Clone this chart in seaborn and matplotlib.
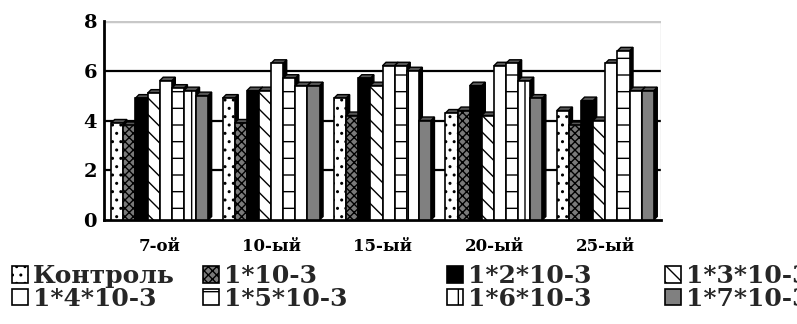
import numpy as np
import pandas as pd
import seaborn as sns
import matplotlib.pyplot as plt
from matplotlib.patches import Polygon, Patch

# Observation days (x categories)
days = ["7-ой", "10-ый", "15-ый", "20-ый", "25-ый"]

# Treatment groups (hue)
groups = ["Контроль", "1*10-3", "1*2*10-3", "1*3*10-3",
          "1*4*10-3", "1*5*10-3", "1*6*10-3", "1*7*10-3"]

# Measured values per group, one per day
kontrol = [3.9, 4.9, 4.9, 4.3, 4.4]
c1 = [3.8, 3.9, 4.2, 4.4, 3.8]
c2 = [4.9, 5.2, 5.7, 5.4, 4.8]
c3 = [5.1, 5.2, 5.4, 4.2, 4.0]
c4 = [5.6, 6.3, 6.2, 6.2, 6.3]
c5 = [5.3, 5.7, 6.2, 6.3, 6.8]
c6 = [5.2, 5.4, 6.0, 5.6, 5.2]
c7 = [5.0, 5.4, 4.0, 4.9, 5.2]
series = [kontrol, c1, c2, c3, c4, c5, c6, c7]

y_ticks = [0, 2, 4, 6, 8]

rows = []
for g, vals in zip(groups, series):
    for d, v in zip(days, vals):
        rows.append({"day": d, "group": g, "value": v})
df = pd.DataFrame(rows)

# Fill and hatch styling for each group
faces = ["white", "#7a7a7a", "black", "white", "white", "white", "white", "#808080"]
hatches = ["..", "xxxx", "", "\\\\", "", "-", "|", ""]

sns.set_theme(style="white")
plt.rcParams["font.family"] = ["DejaVu Serif"]
plt.rcParams["font.weight"] = "bold"
plt.rcParams["hatch.linewidth"] = 1.0
plt.rcParams["hatch.color"] = "black"

W, H = 797, 324
fig = plt.figure(figsize=(W / 100, H / 100), dpi=100)
ax_l, ax_r, ax_b, ax_t = 104, 661, 220, 21
ax = fig.add_axes([ax_l / W, 1 - ax_b / H, (ax_r - ax_l) / W, (ax_b - ax_t) / H])

sns.barplot(data=df, x="day", y="value", hue="group", order=days, hue_order=groups,
            palette=dict(zip(groups, faces)), saturation=1, width=0.87,
            edgecolor="black", linewidth=1.2, legend=False, ax=ax)

ax.set_xlim(-0.5, len(days) - 0.5)
ax.set_ylim(0, 8)

# Hatches per group container
for cont, hatch in zip(ax.containers, hatches):
    for rect in cont:
        rect.set_hatch(hatch)

# Pseudo-3D depth: side and top faces derived from each bar
px_x = (len(days)) / (ax_r - ax_l)
px_y = 8 / (ax_b - ax_t)
dx, dy = 3.5 * px_x, 3.5 * px_y
rects = [r for cont in ax.containers for r in cont]
rects.sort(key=lambda r: r.get_x())
for rank, r in enumerate(rects):
    x0, w, h = r.get_x(), r.get_width(), r.get_height()
    z = 3 + rank * 0.01
    r.set_zorder(z)
    side = Polygon([(x0 + w, 0), (x0 + w, h), (x0 + w + dx, h + dy), (x0 + w + dx, dy)],
                   closed=True, facecolor="black", edgecolor="black", lw=1.0, zorder=z - 0.005)
    top = Polygon([(x0, h), (x0 + w, h), (x0 + w + dx, h + dy), (x0 + dx, h + dy)],
                  closed=True, facecolor="#555555", edgecolor="black", lw=1.0, zorder=z - 0.005)
    ax.add_patch(side)
    ax.add_patch(top)

# Gridlines on the back wall
for yv in y_ticks[1:-1]:
    ax.axhline(yv, color="black", lw=1.6, zorder=1)
ax.axhline(8, color="#c8c8c8", lw=2.5, zorder=1)
ax.axvline(len(days) - 0.5, color="#d0d0d0", lw=1, zorder=1)

ax.set_yticks(y_ticks)
ax.set_yticklabels([str(t) for t in y_ticks], fontsize=14, fontweight="bold")
ax.set_xticks(range(len(days)))
ax.set_xticklabels(days, fontsize=12, fontweight="bold")
ax.set_xticks(np.arange(0.5, len(days) - 0.5, 1), minor=True)
ax.tick_params(axis="x", which="major", length=0, pad=13, colors="black")
ax.tick_params(axis="x", which="minor", length=5, width=1.5, direction="out", color="black")
ax.tick_params(axis="y", length=4, width=1.5, pad=1, colors="black", direction="out")
ax.set_xlabel("")
ax.set_ylabel("")

for s in ["top", "right"]:
    ax.spines[s].set_visible(False)
for s in ["left", "bottom"]:
    ax.spines[s].set_color("black")
    ax.spines[s].set_linewidth(2)

# Legend: four columns, two rows
handles = [Patch(facecolor=f, edgecolor="black", hatch=h, lw=1.2) for f, h in zip(faces, hatches)]
col_x = [12, 203, 447, 665]
for k, cx in enumerate(col_x):
    idx = [k, k + 4]
    fig.legend([handles[i] for i in idx], [groups[i] for i in idx],
               loc="upper left", bbox_to_anchor=(cx / W, 1 - 264 / H),
               frameon=False, borderpad=0, borderaxespad=0,
               handlelength=0.65, handleheight=0.65, handletextpad=0.2,
               labelspacing=-0.05,
               prop={"family": "DejaVu Serif", "weight": "bold", "size": 18})

fig.savefig("out.png", dpi=100)
